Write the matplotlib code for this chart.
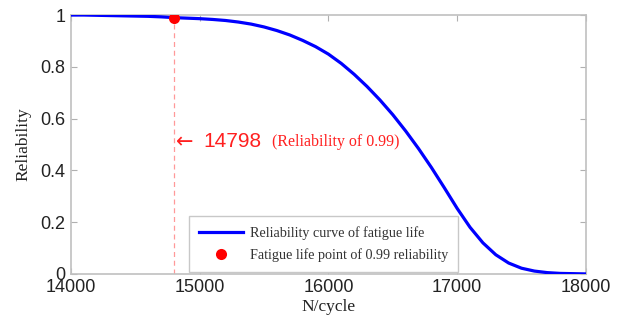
import matplotlib
matplotlib.use("Agg")
import matplotlib.pyplot as plt

# reliability curve of fatigue life (N in cycles)
cycles = [14000, 14100, 14200, 14300, 14400, 14500, 14600, 14700, 14800, 14900,
          15000, 15100, 15200, 15300, 15400, 15500, 15600, 15700, 15800, 15900,
          16000, 16100, 16200, 16300, 16400, 16500, 16600, 16700, 16800, 16900,
          17000, 17100, 17200, 17300, 17400, 17500, 17600, 17700, 17800, 17900,
          18000]
reliability = [1.000, 1.000, 0.999, 0.998, 0.997, 0.996, 0.995, 0.993, 0.990, 0.988,
               0.986, 0.983, 0.979, 0.973, 0.965, 0.954, 0.940, 0.923, 0.902, 0.878,
               0.849, 0.813, 0.771, 0.724, 0.672, 0.615, 0.552, 0.484, 0.411, 0.333,
               0.253, 0.180, 0.120, 0.074, 0.042, 0.022, 0.011, 0.005, 0.002, 0.001,
               0.000]

# life point at 0.99 reliability
life_099 = 14798
rel_099 = 0.99

xticks = [14000, 15000, 16000, 17000, 18000]
yticks = [0, 0.2, 0.4, 0.6, 0.8, 1]
ytick_labels = ["0", "0.2", "0.4", "0.6", "0.8", "1"]

fig = plt.figure(figsize=(6.22, 3.2), dpi=100)
ax = fig.add_axes([0.114, 0.144, 0.828, 0.809])

ax.plot(cycles, reliability, color="#0000ff", lw=2.3,
        label="Reliability curve of fatigue life", zorder=3)
ax.plot([life_099, life_099], [0, rel_099], color="#ff9999", lw=0.9,
        ls=(0, (4, 3)), zorder=2)
ax.plot([life_099], [rel_099], "o", color="#ff0000", ms=8, mec="none",
        label="Fatigue life point of 0.99 reliability", zorder=4)

# annotation of the 0.99 life point
ax.text(14815, 0.51, "\u2190", color="#ff2020", fontsize=15, va="center",
        ha="left", family="DejaVu Sans")
ax.text(15025, 0.51, str(life_099), color="#ff2020", fontsize=15, va="center",
        ha="left", family="Liberation Sans")
ax.text(15560, 0.51, "(Reliability of 0.99)", color="#ff2020", fontsize=11.5,
        va="center", ha="left", family="Liberation Serif")

ax.set_xlim(14000, 18000)
ax.set_ylim(0, 1)
ax.set_xticks(xticks)
ax.set_yticks(yticks)
ax.set_yticklabels(ytick_labels)
ax.tick_params(direction="in", top=True, right=True, length=4, width=0.8,
               color="#b0b0b0", labelsize=13, labelcolor="#222222", pad=4)
for lab in ax.get_xticklabels() + ax.get_yticklabels():
    lab.set_family("Liberation Sans")
for sp in ax.spines.values():
    sp.set_color("#c0c0c0")
    sp.set_linewidth(1.2)

ax.set_xlabel("N/cycle", family="Liberation Serif", fontsize=12.5,
              color="#222222", labelpad=2)
ax.set_ylabel("Reliability", family="Liberation Serif", fontsize=12.5,
              color="#222222", labelpad=6)

leg = ax.legend(loc="lower right", bbox_to_anchor=(0.7515, 0.008),
                borderaxespad=0,
                prop={"family": "Liberation Serif", "size": 10.2},
                fancybox=False, edgecolor="#c8c8c8", framealpha=1,
                handlelength=3.1, handletextpad=0.5, borderpad=0.7,
                labelspacing=0.6)
for t in leg.get_texts():
    t.set_color("#333333")

fig.savefig("out.png", dpi=100)
